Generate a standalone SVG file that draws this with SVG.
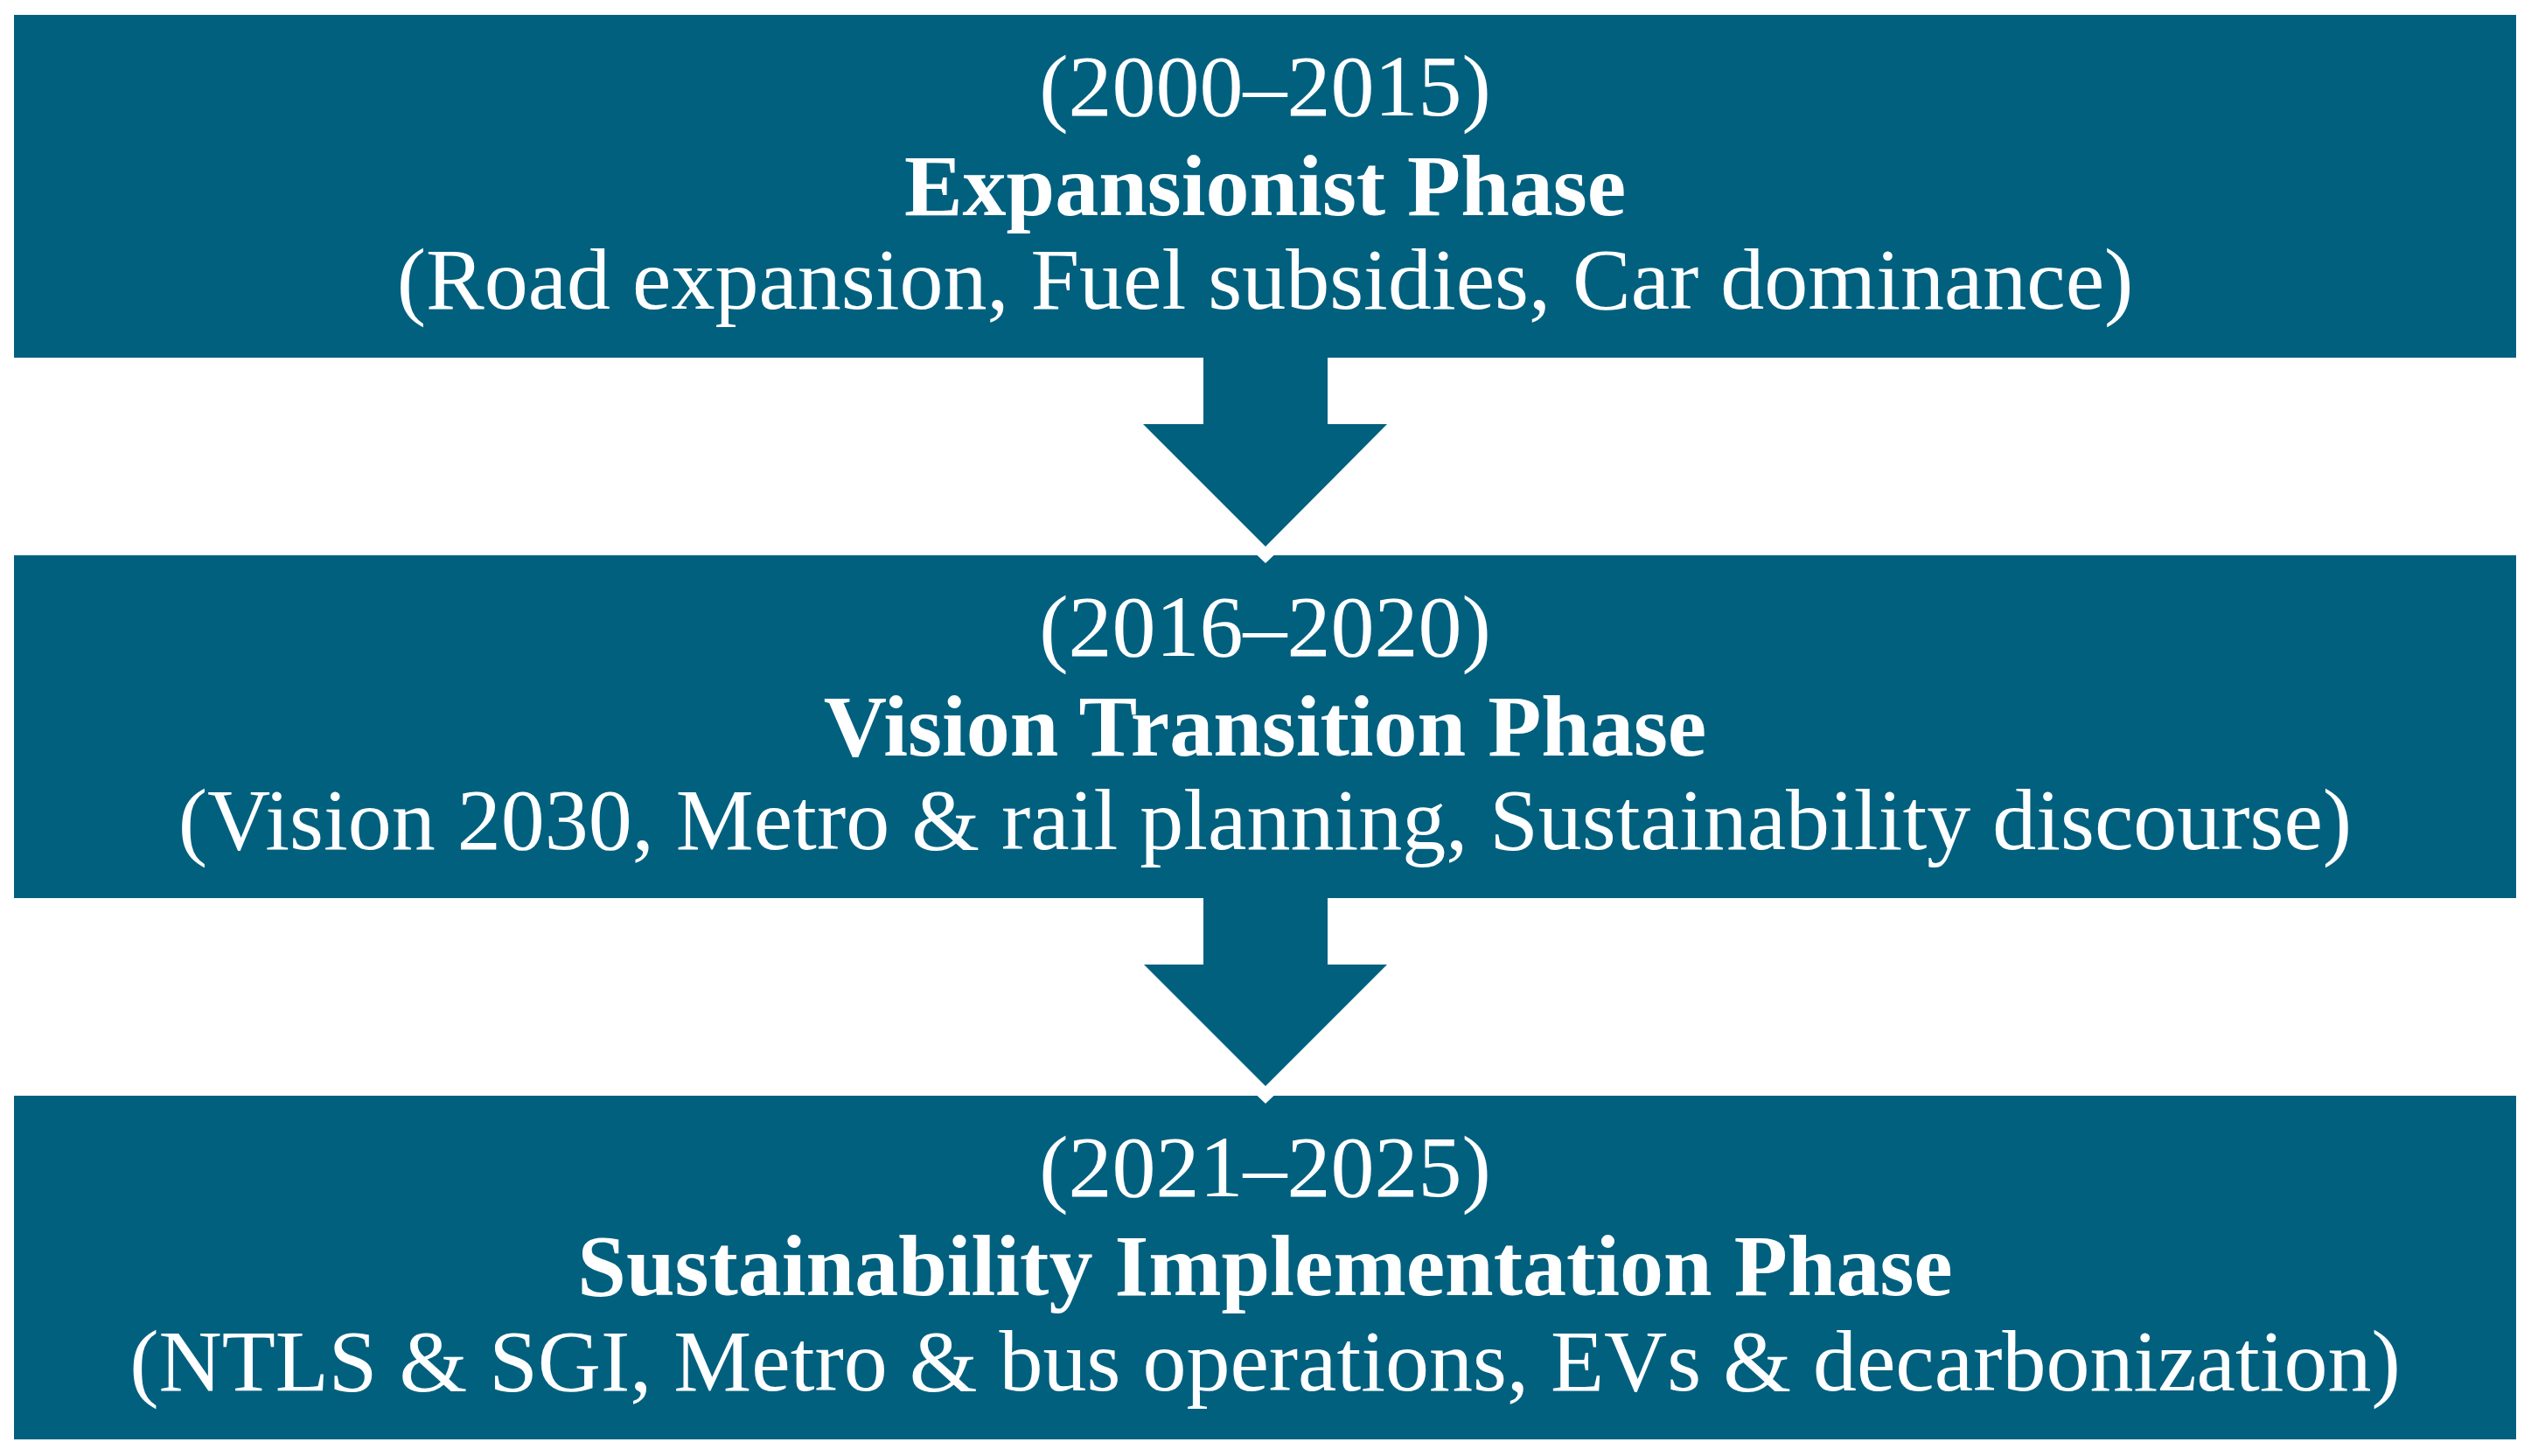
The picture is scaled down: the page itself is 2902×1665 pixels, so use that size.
<svg xmlns="http://www.w3.org/2000/svg" width="2902" height="1665" viewBox="0 0 2902 1665">
<style>
.box{fill:#02607f}
.arrow{fill:#02607f}
.notch{fill:#ffffff}
text{font-family:"Liberation Serif","Times New Roman",serif;font-size:100px;fill:#ffffff;text-anchor:middle}
.b{font-weight:bold}
</style>
<rect x="0" y="0" width="2902" height="1665" fill="#ffffff"/>
<g id="connectors">
<polygon class="arrow" points="1376,405 1518,405 1518,485 1586,485 1447,625 1307,485 1376,485"/>
<polygon class="notch" points="1437.5,635 1456.5,635 1447,644"/>
<polygon class="arrow" points="1376,1023 1518,1023 1518,1103 1586,1103 1447,1242 1308,1103 1376,1103"/>
<polygon class="notch" points="1437.5,1253 1456.5,1253 1447,1262"/>
</g>
<g id="phase1">
<rect class="box" x="16" y="17" width="2861" height="392"/>
<text x="1446.5" y="132">(2000–2015)</text>
<text class="b" x="1446.5" y="246">Expansionist Phase</text>
<text x="1446.5" y="353">(Road expansion, Fuel subsidies, Car dominance)</text>
</g>
<g id="phase2">
<rect class="box" x="16" y="635" width="2861" height="392"/>
<polygon class="notch" points="1437.5,635 1456.5,635 1447,644"/>
<text x="1446.5" y="750">(2016–2020)</text>
<text class="b" x="1446.5" y="864">Vision Transition Phase</text>
<text x="1446.5" y="971">(Vision 2030, Metro &amp; rail planning, Sustainability discourse)</text>
</g>
<g id="phase3">
<rect class="box" x="16" y="1253" width="2861" height="393"/>
<polygon class="notch" points="1437.5,1253 1456.5,1253 1447,1262"/>
<text x="1446.5" y="1368">(2021–2025)</text>
<text class="b" x="1446.5" y="1481">Sustainability Implementation Phase</text>
<text x="1446.5" y="1590">(NTLS &amp; SGI, Metro &amp; bus operations, EVs &amp; decarbonization)</text>
</g>
</svg>
